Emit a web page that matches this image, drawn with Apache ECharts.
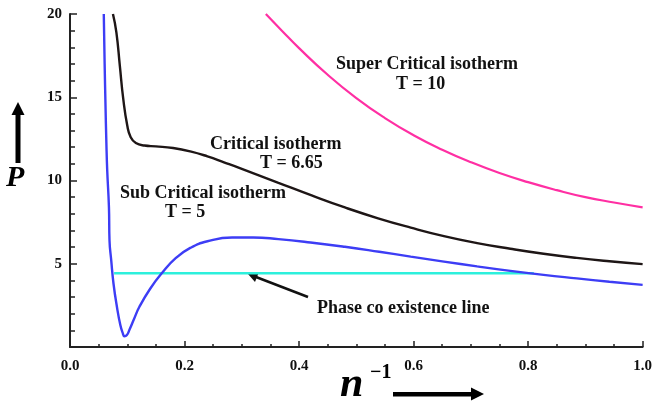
<!DOCTYPE html>
<html lang="en">

<head>
    <meta charset="UTF-8">
    <title>Isotherms</title>
    <script src="https://cdn.jsdelivr.net/npm/echarts@6/dist/echarts.min.js"></script>
    <style>
        html, body {
            margin: 0;
            padding: 0;
            background: #fff;
        }

        #main {
            width: 655px;
            height: 405px;
        }
    </style>
</head>

<body>
    <div id="main"></div>

    <script>
        // sub critical isotherm, T = 5
        var subX = [0.059, 0.0605, 0.062, 0.0635, 0.065, 0.068, 0.069, 0.072, 0.076, 0.082, 0.088, 0.092, 0.095, 0.099, 0.104, 0.112, 0.121, 0.140, 0.161, 0.185, 0.210, 0.240, 0.283, 0.320, 0.364, 0.420, 0.480, 0.540, 0.595, 0.653, 0.711, 0.769, 0.827, 0.885, 0.942, 1.000];
        var subP = [20, 17, 14.5, 12.3, 10.6, 8.4, 6.4, 5.2, 3.8, 2.4, 1.3, 0.85, 0.65, 0.7, 1.05, 1.7, 2.4, 3.5, 4.46, 5.35, 5.95, 6.35, 6.58, 6.58, 6.48, 6.28, 6.02, 5.72, 5.43, 5.13, 4.84, 4.57, 4.33, 4.12, 3.92, 3.73];
        // critical isotherm, T = 6.65
        var critX = [0.075, 0.081, 0.087, 0.093, 0.100, 0.106, 0.115, 0.130, 0.150, 0.180, 0.210, 0.240, 0.270, 0.300, 0.364, 0.422, 0.480, 0.538, 0.595, 0.653, 0.711, 0.769, 0.827, 0.885, 0.942, 1.000];
        var critP = [20, 18.9, 16.9, 14.9, 13.3, 12.6, 12.25, 12.1, 12.05, 11.95, 11.75, 11.45, 11.08, 10.7, 9.86, 9.1, 8.38, 7.73, 7.17, 6.66, 6.24, 5.9, 5.6, 5.35, 5.15, 4.98];
        // super critical isotherm, T = 10
        var superX = [0.342, 0.370, 0.400, 0.450, 0.500, 0.550, 0.600, 0.650, 0.700, 0.750, 0.800, 0.850, 0.900, 0.950, 1.000];
        var superP = [20, 19.0, 17.95, 16.35, 14.95, 13.75, 12.72, 11.85, 11.1, 10.45, 9.9, 9.42, 9.0, 8.68, 8.39];
        // phase co existence line
        var phaseX = [0.077, 0.81];
        var phaseP = [4.43, 4.43];

        function zip(xs, ys) {
            var out = [];
            for (var i = 0; i < xs.length; i++) {
                out.push([xs[i], ys[i]]);
            }
            return out;
        }

        var serif = 'Liberation Serif';
        var myChart = echarts.init(document.getElementById('main'));

        var option = {
            animation: false,
            grid: {
                left: 70,
                right: 8,
                top: 14,
                bottom: 58
            },
            xAxis: {
                type: 'value',
                min: 0,
                max: 1,
                interval: 0.2,
                axisLine: {
                    lineStyle: { color: '#222', width: 2 }
                },
                axisTick: {
                    inside: true,
                    length: 6,
                    lineStyle: { color: '#222', width: 1.5 }
                },
                minorTick: {
                    show: true,
                    splitNumber: 4,
                    length: 3,
                    lineStyle: { color: '#222', width: 1.5 }
                },
                splitLine: { show: false },
                axisLabel: {
                    color: '#111',
                    fontFamily: serif,
                    fontWeight: 'bold',
                    fontSize: 15,
                    margin: 12,
                    formatter: function (v) { return v.toFixed(1); }
                }
            },
            yAxis: {
                type: 'value',
                min: 0,
                max: 20,
                interval: 5,
                axisLine: {
                    show: true,
                    lineStyle: { color: '#222', width: 2 }
                },
                axisTick: {
                    show: true,
                    inside: true,
                    length: 7,
                    lineStyle: { color: '#222', width: 1.5 }
                },
                minorTick: {
                    show: true,
                    splitNumber: 5,
                    length: 5,
                    lineStyle: { color: '#222', width: 1.5 }
                },
                splitLine: { show: false },
                axisLabel: {
                    color: '#111',
                    fontFamily: serif,
                    fontWeight: 'bold',
                    fontSize: 15,
                    margin: 8,
                    showMinLabel: false
                }
            },
            series: [{
                name: 'Sub Critical',
                type: 'line',
                data: zip(subX, subP),
                smooth: 0.5,
                showSymbol: false,
                lineStyle: { color: '#3d3df5', width: 2.4 }
            }, {
                name: 'Critical',
                type: 'line',
                data: zip(critX, critP),
                smooth: 0.5,
                showSymbol: false,
                lineStyle: { color: '#1e1616', width: 2.4 }
            }, {
                name: 'Super Critical',
                type: 'line',
                data: zip(superX, superP),
                smooth: 0.5,
                showSymbol: false,
                lineStyle: { color: '#ff2fa3', width: 2.2 }
            }, {
                name: 'Phase',
                type: 'line',
                data: zip(phaseX, phaseP),
                showSymbol: false,
                z: 1,
                lineStyle: { color: '#2cf0dc', width: 2.4 }
            }],
            graphic: [
                // annotations
                { type: 'text', left: 336, top: 55, style: { text: 'Super Critical isotherm', font: 'bold 18px ' + serif, fill: '#111' } },
                { type: 'text', left: 396, top: 75, style: { text: 'T = 10', font: 'bold 18px ' + serif, fill: '#111' } },
                { type: 'text', left: 210, top: 135, style: { text: 'Critical isotherm', font: 'bold 18px ' + serif, fill: '#111' } },
                { type: 'text', left: 260, top: 154, style: { text: 'T = 6.65', font: 'bold 18px ' + serif, fill: '#111' } },
                { type: 'text', left: 120, top: 184, style: { text: 'Sub Critical isotherm', font: 'bold 18px ' + serif, fill: '#111' } },
                { type: 'text', left: 165, top: 203, style: { text: 'T = 5', font: 'bold 18px ' + serif, fill: '#111' } },
                { type: 'text', left: 317, top: 299, style: { text: 'Phase co existence line', font: 'bold 18px ' + serif, fill: '#111' } },
                // arrow to the phase line
                { type: 'line', shape: { x1: 308, y1: 297, x2: 256, y2: 277 }, style: { stroke: '#111', lineWidth: 2.5 } },
                { type: 'polygon', shape: { points: [[248, 274], [259, 272], [255, 282]] }, style: { fill: '#111' } },
                // y axis name with arrow
                { type: 'text', left: 6, top: 163, style: { text: 'P', font: 'italic bold 30px ' + serif, fill: '#000' } },
                { type: 'rect', shape: { x: 15.5, y: 112, width: 5, height: 51 }, style: { fill: '#000' } },
                { type: 'polygon', shape: { points: [[18, 102], [11.5, 115], [24.5, 115]] }, style: { fill: '#000' } },
                // x axis name with arrow
                { type: 'text', left: 340, top: 364, style: { text: 'n', font: 'italic bold 42px ' + serif, fill: '#000' } },
                { type: 'text', left: 370, top: 363, style: { text: '\u22121', font: 'bold 20px ' + serif, fill: '#000' } },
                { type: 'rect', shape: { x: 393, y: 392, width: 80, height: 4.5 }, style: { fill: '#000' } },
                { type: 'polygon', shape: { points: [[484, 394], [471, 387.5], [471, 400.5]] }, style: { fill: '#000' } }
            ]
        };

        myChart.setOption(option);
    </script>
</body>

</html>
